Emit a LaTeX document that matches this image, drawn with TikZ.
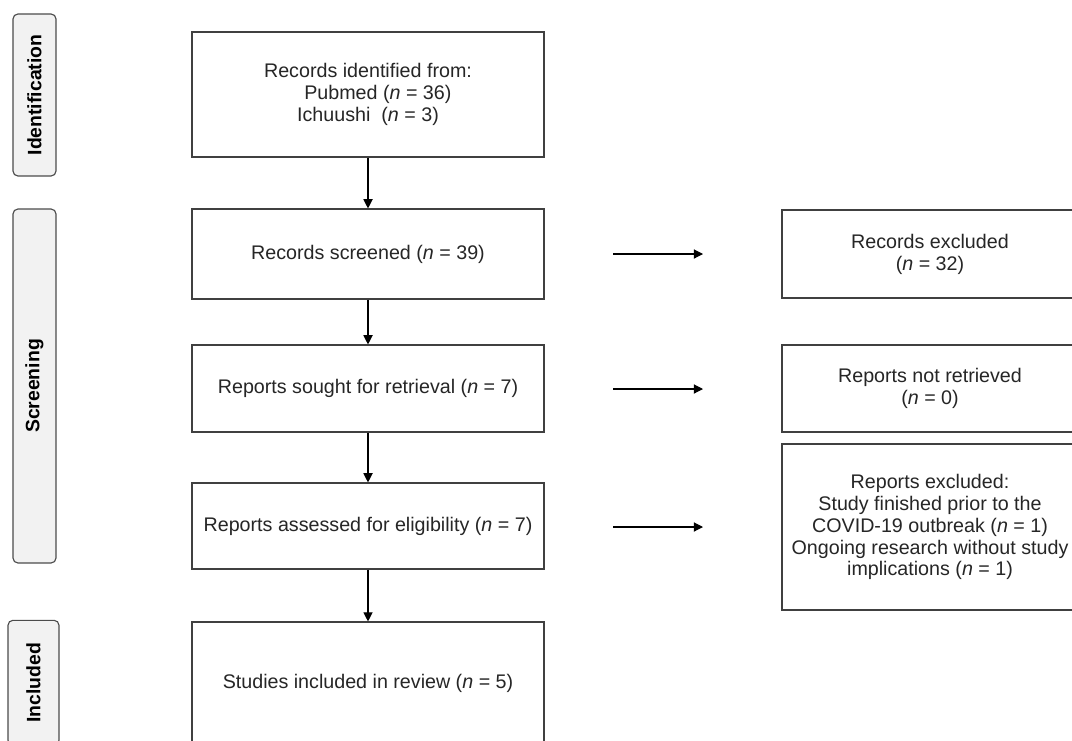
\documentclass[tikz,border=0pt]{standalone}
\usepackage{fontspec}
\setmainfont{Liberation Sans}
\usepackage{xcolor}
\usepackage{tikz}
\usetikzlibrary{positioning,arrows.meta}

\begin{document}
\begin{tikzpicture}[
  font=\fontsize{14}{15.6}\selectfont,
  text=black!85,
  b/.style={draw=black!75, line width=0.8pt, fill=white, align=center, inner sep=3pt, minimum width=8.8cm},
  ex/.style={draw=black!75, line width=0.8pt, fill=white, align=center, inner sep=3pt, minimum width=7.4cm},
  lab/.style={draw=black!70, line width=0.8pt, rounded corners=3.5pt, fill=gray!10, rotate=90, inner sep=2pt,
    text=black, font=\fontsize{13.8}{15}\selectfont\bfseries},
  arr/.style={draw=black, line width=0.8pt, -{Triangle[length=2.3mm, width=2.3mm]}}
]
  \useasboundingbox (0,0) rectangle (26.8,-18.5);
  % phase labels
  \node[lab, minimum width=4.05cm, minimum height=1.075cm] (lid) at (0.8625,-2.375) {Identification};
  \node[lab, minimum width=8.85cm, minimum height=1.075cm] (lsc) at (0.8625,-9.65) {Screening};
  \node[lab, minimum width=3.125cm, minimum height=1.275cm] (lin) at (0.8375,-17.07) {Included};
  % main column
  \node[b, minimum height=3.125cm] (ident) at (9.2,-2.3625) {Records identified from:\\
  \quad Pubmed (\emph{n} = 36)\\
  Ichuushi\ \ (\emph{n} = 3)};
  \node[b, minimum height=2.25cm] (scr) at (9.2,-6.35) {Records screened (\emph{n} = 39)};
  \node[b, minimum height=2.175cm] (sought) at (9.2,-9.7125) {Reports sought for retrieval (\emph{n} = 7)};
  \node[b, minimum height=2.15cm] (elig) at (9.2,-13.15) {Reports assessed for eligibility (\emph{n} = 7)};
  \node[b, minimum height=3.05cm] (incl) at (9.2,-17.075) {Studies included in review (\emph{n} = 5)};
  % exclusions
  \node[ex, minimum height=2.2cm] (rexc) at (23.25,-6.35) {Records excluded\\(\emph{n} = 32)};
  \node[ex, minimum height=2.175cm] (rnot) at (23.25,-9.7125) {Reports not retrieved\\(\emph{n} = 0)};
  \node[ex, minimum height=4.15cm] (rpex) at (23.25,-13.175) {Reports excluded:\\
  Study finished prior to the\\
  COVID-19 outbreak (\emph{n} = 1)\\
  Ongoing research without study\\
  implications (\emph{n} = 1)};
  % free arrows between columns
  \coordinate (s1) at (15.325,-6.35);
  \coordinate (e1) at (17.575,-6.35);
  \coordinate (s2) at (15.325,-9.725);
  \coordinate (e2) at (17.575,-9.725);
  \coordinate (s3) at (15.325,-13.175);
  \coordinate (e3) at (17.575,-13.175);
  \draw[arr] (ident) -- (scr);
  \draw[arr] (scr) -- (sought);
  \draw[arr] (sought) -- (elig);
  \draw[arr] (elig) -- (incl);
  \draw[arr] (s1) -- (e1);
  \draw[arr] (s2) -- (e2);
  \draw[arr] (s3) -- (e3);
\end{tikzpicture}
\end{document}
